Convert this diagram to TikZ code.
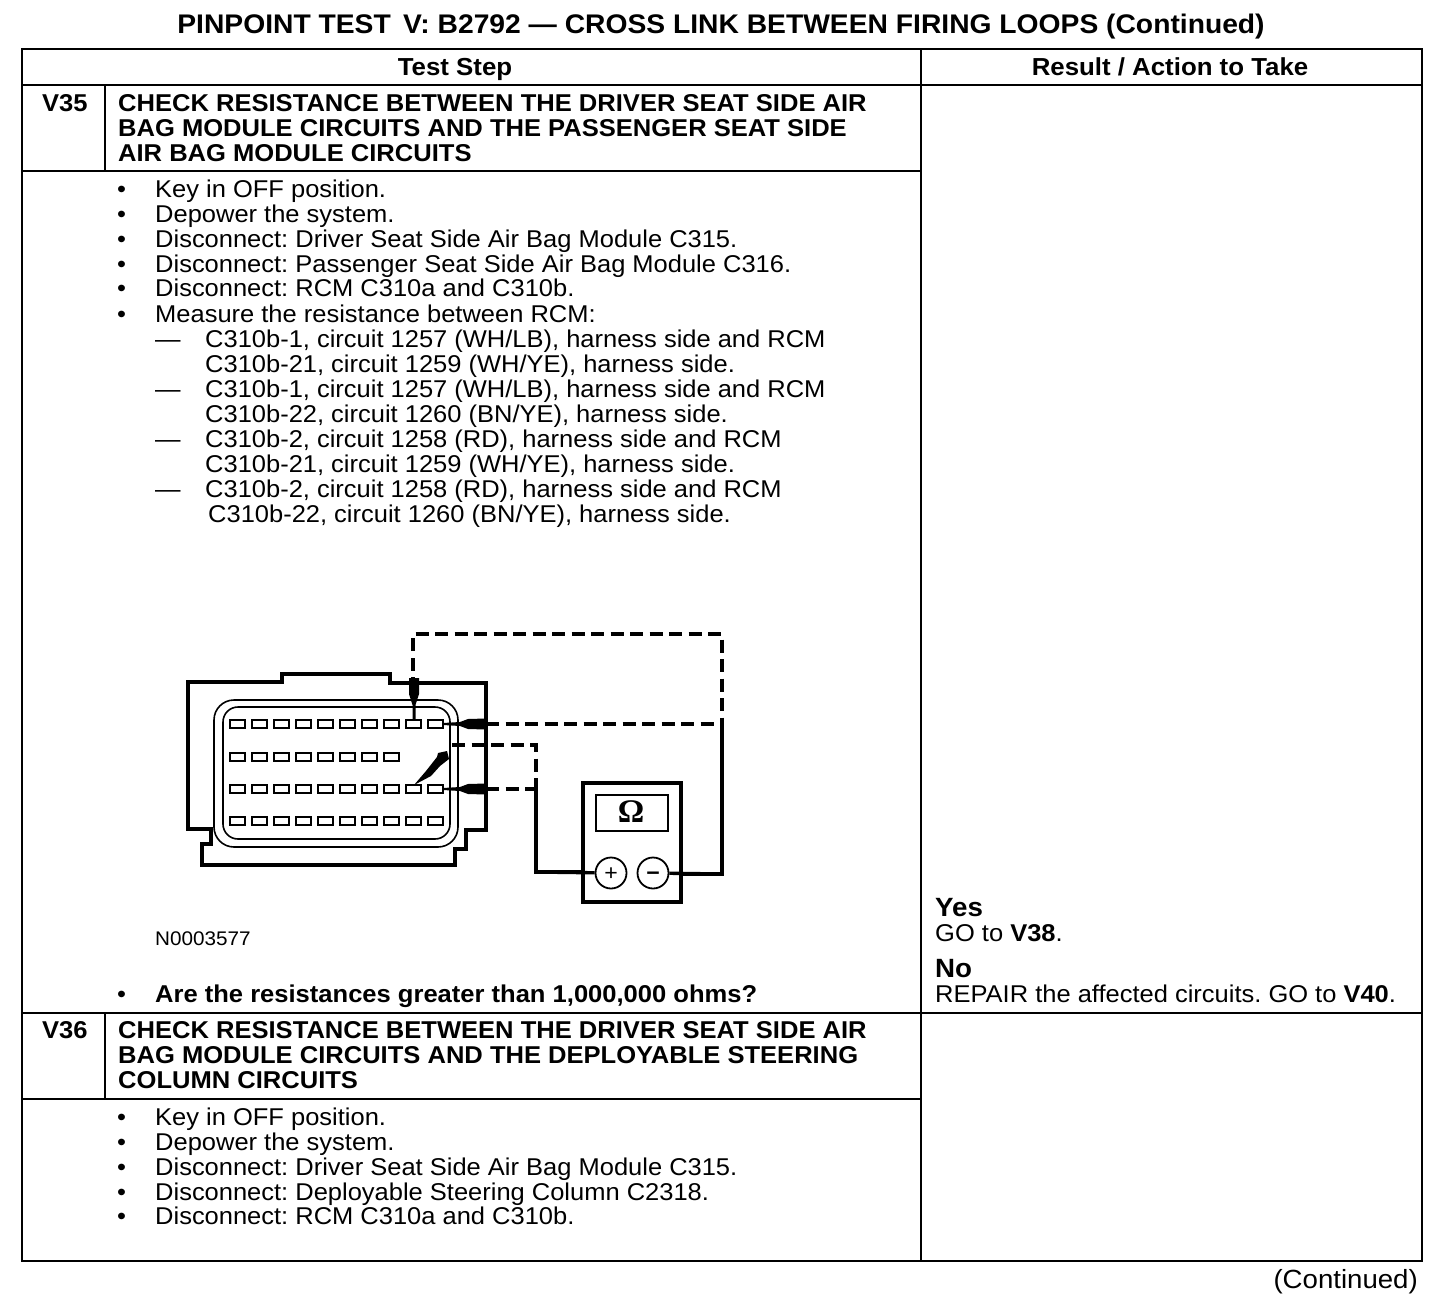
\documentclass[tikz,border=0pt]{standalone}
\usepackage{fontspec}
\setmainfont[FakeStretch=1.05]{Liberation Sans}
\newfontfamily\omegafont{Liberation Serif}
\frenchspacing
\tikzset{
  txt/.style={anchor=base west,inner sep=0pt,font=\fontsize{24.27}{26}\selectfont},
  boldtxt/.style={txt,font=\fontsize{24.33}{26}\selectfont\bfseries},
  headtxt/.style={anchor=base,inner sep=0pt,font=\fontsize{24.6}{26}\selectfont\bfseries},
  bigtxt/.style={txt,font=\fontsize{26.4}{28}\selectfont\bfseries},
  termsign/.style={circle,draw,line width=1.8pt,fill=white,minimum size=31pt,inner sep=0pt,text height=0pt,text depth=0pt,font=\fontsize{22}{22}\selectfont\bfseries},
  rule/.style={line width=2.4pt},
  wire/.style={line width=3.4pt},
  wiredash/.style={line width=3.4pt,dash pattern=on 13pt off 6.5pt},
  thinwire/.style={line width=1.6pt},
  slotbox/.style={line width=2pt}
}
\begin{document}
\begin{tikzpicture}[x=1pt,y=-1pt]
  \useasboundingbox (0,0) rectangle (1456,1304);
  \node[headtxt,font=\fontsize{26.9}{28}\selectfont\bfseries](title) at (721,33) {PINPOINT TEST\, V: B2792 — CROSS LINK BETWEEN FIRING LOOPS (Continued)};
  \draw[rule] (22,49) rectangle (1422,1261);
  \draw[rule] (22,85) -- (1422,85);
  \draw[rule] (921,49) -- (921,1261);
  \draw[rule] (22,171) -- (921,171);
  \draw[rule] (105,85) -- (105,171);
  \draw[rule] (22,1013) -- (1422,1013);
  \draw[rule] (105,1013) -- (105,1099);
  \draw[rule] (22,1099) -- (921,1099);
  \node[headtxt](hdstep) at (455,75) {Test Step};
  \node[headtxt](hdresult) at (1170,75) {Result / Action to Take};
  \node[boldtxt](v35) at (42,111) {V35};
  \node[boldtxt](v35a) at (118,111) {CHECK RESISTANCE BETWEEN THE DRIVER SEAT SIDE AIR};
  \node[boldtxt](v35b) at (118,136) {BAG MODULE CIRCUITS AND THE PASSENGER SEAT SIDE};
  \node[boldtxt](v35c) at (118,161) {AIR BAG MODULE CIRCUITS};
  \foreach \by in {197,222,247,272,296,322,1002,1125,1150,1175,1200,1224}
    \node[txt] at (117,\by) {•};
  \node[txt](s1) at (155,197) {Key in OFF position.};
  \node[txt](s2) at (155,222) {Depower the system.};
  \node[txt](s3) at (155,247) {Disconnect: Driver Seat Side Air Bag Module C315.};
  \node[txt](s4) at (155,272) {Disconnect: Passenger Seat Side Air Bag Module C316.};
  \node[txt](s5) at (155,296) {Disconnect: RCM C310a and C310b.};
  \node[txt](s6) at (155,322) {Measure the resistance between RCM:};
  \foreach \by in {347,397,447,497}
    \node[txt] at (155,\by) {—};
  \node[txt](m1a) at (205,347) {C310b-1, circuit 1257 (WH/LB), harness side and RCM};
  \node[txt](m1b) at (205,372) {C310b-21, circuit 1259 (WH/YE), harness side.};
  \node[txt](m2a) at (205,397) {C310b-1, circuit 1257 (WH/LB), harness side and RCM};
  \node[txt](m2b) at (205,422) {C310b-22, circuit 1260 (BN/YE), harness side.};
  \node[txt](m3a) at (205,447) {C310b-2, circuit 1258 (RD), harness side and RCM};
  \node[txt](m3b) at (205,472) {C310b-21, circuit 1259 (WH/YE), harness side.};
  \node[txt](m4a) at (205,497) {C310b-2, circuit 1258 (RD), harness side and RCM};
  \node[txt](m4b) at (208,522) {C310b-22, circuit 1260 (BN/YE), harness side.};
  \draw[wire] (188,682) -- (282,682) -- (282,674) -- (390,674) -- (390,683) -- (486,683)
    -- (486,830) -- (466,830) -- (466,849) -- (455,849) -- (455,865) -- (202,865)
    -- (202,844) -- (211,844) -- (211,829) -- (188,829) -- cycle;
  \draw[thinwire,rounded corners=20pt,fill=white] (214,700) rectangle (458,847);
  \draw[thinwire,rounded corners=15pt] (223,707) rectangle (450,839);
  \foreach \ry in {724,789,821}
    \foreach \i in {0,...,9}
      \draw[slotbox] ({229.5+22*\i},\ry-4) rectangle ++(15,8);
  \foreach \i in {0,...,7}
    \draw[slotbox] ({229.5+22*\i},753) rectangle ++(15,8);
  \draw[wiredash] (413,690) -- (413,634) -- (722,634) -- (722,724);
  \draw[wiredash] (486,724) -- (722,724);
  \draw[wire] (722,724) -- (722,874) -- (668,874);
  \draw[wiredash] (486,789) -- (536,789);
  \draw[wiredash] (452,745) -- (536,745) -- (536,789);
  \draw[wire] (536,789) -- (536,872) -- (596,872);
  \fill (412.5,720) -- (412.5,705) -- (409,694) -- (409,678) -- (419,678) -- (419,694) -- (415.5,705) -- (415.5,720) -- cycle;
  \fill (443,723) -- (460,722) -- (468,719) -- (486,718.5) -- (486,729.5) -- (468,729) -- (460,726) -- (443,725) -- cycle;
  \fill (443,788) -- (460,787) -- (468,784) -- (486,783.5) -- (486,794.5) -- (468,794) -- (460,791) -- (443,790) -- cycle;
  \fill (414,785) -- (426,771) -- (437,757) -- (438,753) -- (447,751) -- (449,759) -- (440,766) -- (431,776) -- cycle;
  \draw[wire,fill=white] (583,783) rectangle (681,902);
  \draw[line width=2.4pt] (596,795) rectangle (668,831);
  \node[inner sep=0pt,font=\omegafont\fontsize{33}{34}\selectfont\bfseries](ohm) at (631,812) {Ω};
  \node[termsign,font=\fontsize{22}{22}\selectfont](plus) at (611,873) {\raisebox{-7.5pt}[0pt][0pt]{+}};
  \node[termsign](minus) at (653,873) {\raisebox{-7.5pt}[0pt][0pt]{−}};
  \draw[wire] (536,872) -- (plus);
  \draw[wire] (minus) -- (722,874);
  \node[txt,font=\fontsize{19.7}{21}\selectfont](fig) at (155,945) {N0003577};
  \node[boldtxt](ask) at (155,1002) {Are the resistances greater than 1,000,000 ohms?};
  \node[bigtxt](yes) at (935,916) {Yes};
  \node[txt](goa) at (935,941) {GO to \textbf{V38}.};
  \node[bigtxt](no) at (935,977) {No};
  \node[txt](gob) at (935,1002) {REPAIR the affected circuits. GO to \textbf{V40}.};
  \node[boldtxt](v36) at (42,1038) {V36};
  \node[boldtxt](v36a) at (118,1038) {CHECK RESISTANCE BETWEEN THE DRIVER SEAT SIDE AIR};
  \node[boldtxt](v36b) at (118,1063) {BAG MODULE CIRCUITS AND THE DEPLOYABLE STEERING};
  \node[boldtxt](v36c) at (118,1088) {COLUMN CIRCUITS};
  \node[txt](t1) at (155,1125) {Key in OFF position.};
  \node[txt](t2) at (155,1150) {Depower the system.};
  \node[txt](t3) at (155,1175) {Disconnect: Driver Seat Side Air Bag Module C315.};
  \node[txt](t4) at (155,1200) {Disconnect: Deployable Steering Column C2318.};
  \node[txt](t5) at (155,1224) {Disconnect: RCM C310a and C310b.};
  \node[txt,anchor=base east,font=\fontsize{26.3}{28}\selectfont](cont) at (1418,1288) {(Continued)};
\end{tikzpicture}
\end{document}
